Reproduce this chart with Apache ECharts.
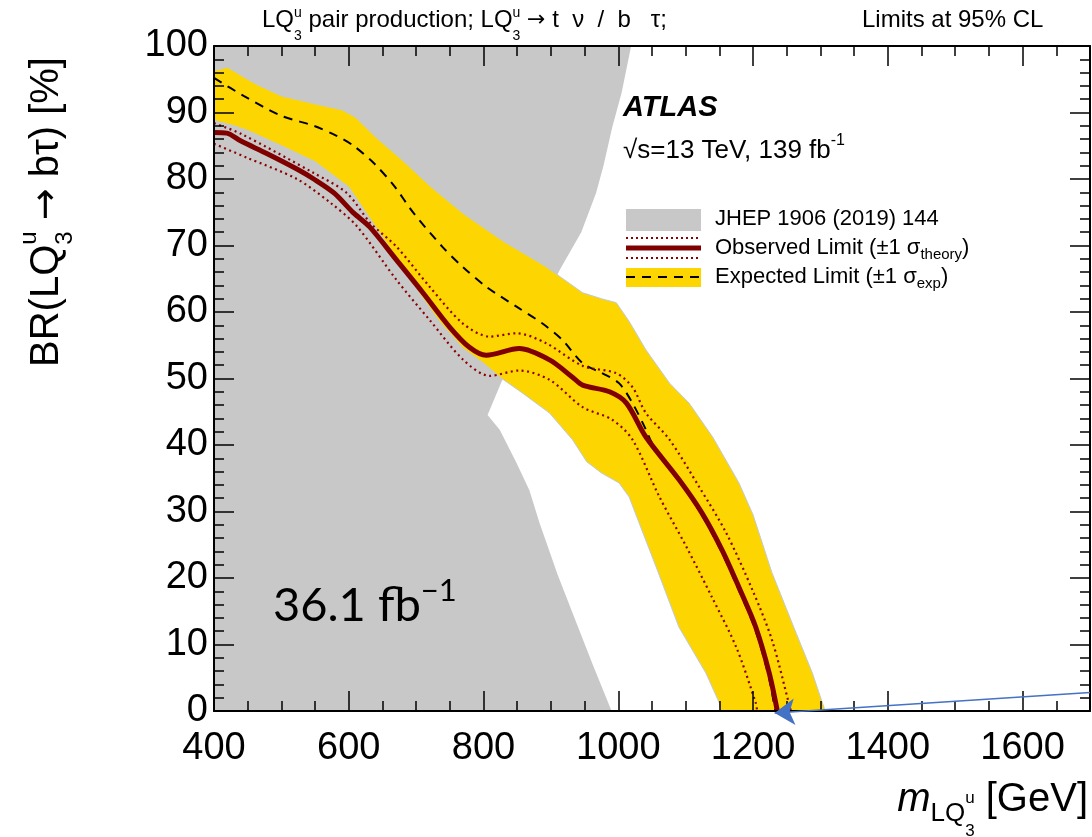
<!DOCTYPE html>
<html>
<head>
<meta charset="utf-8">
<script src="https://cdn.jsdelivr.net/npm/echarts@6/dist/echarts.min.js"></script>
<style>
  html, body { margin: 0; padding: 0; background: #fff; }
  #main { width: 1092px; height: 837px; }
</style>
</head>
<body>
<div id="main"></div>
<script>
// [mass GeV, BR %]
var observed = [[400,87.0],[419,86.9],[440,85.7],[479,83.8],[523,81.5],[548,80.0],[578,77.9],[607,74.9],[631,72.8],[671,67.8],[710,62.9],[750,57.7],[779,54.7],[804,53.5],[853,54.5],[898,52.8],[932,50.2],[947,49.0],[987,48.0],[1012,46.3],[1041,41.2],[1090,34.8],[1124,29.8],[1154,24.2],[1179,18.6],[1204,12.6],[1224,5.7],[1236,0]];
var observedUp = [[400,88.4],[440,86.8],[548,80.9],[597,77.9],[632,73.4],[671,69.8],[720,63.8],[769,58.3],[809,56.3],[849,56.8],[893,55.3],[947,51.9],[997,50.8],[1021,48.7],[1041,44.8],[1076,40.8],[1120,33.7],[1160,26.8],[1199,18.2],[1228,10.7],[1253,1.2],[1256,0]];
var observedDown = [[400,85.3],[449,83.2],[523,80.0],[573,76.4],[612,72.9],[671,64.8],[720,58.8],[770,52.8],[809,50.4],[853,51.2],[898,49.8],[947,45.7],[991,43.8],[1021,40.8],[1061,32.2],[1101,24.7],[1139,17.1],[1175,9.6],[1204,1.2],[1206,0]];
var expected = [[400,95.2],[444,92.5],[500,89.5],[548,88.0],[582,86.5],[607,85.0],[637,82.4],[667,79.0],[696,74.9],[739,69.8],[769,66.8],[804,63.8],[849,60.8],[887,58.3],[917,55.8],[947,52.3],[976,50.8],[1001,49.3],[1021,46.3],[1041,42.3],[1050,40.3],[1088,35.0],[1122,29.8],[1152,24.2],[1177,18.6],[1202,12.6],[1222,5.7],[1233,0]];
var expectedUp = [[400,96.3],[420,96.8],[460,94.4],[500,92.5],[550,91.3],[590,90.4],[610,89.3],[640,86.3],[680,82.8],[720,79.0],[770,74.8],[830,70.6],[890,67.0],[947,62.9],[975,62.0],[997,61.4],[1016,58.6],[1041,54.3],[1076,49.3],[1105,46.3],[1140,41.2],[1179,34.3],[1200,29.5],[1228,20.8],[1264,11.7],[1288,5.7],[1307,0]];
var expectedDown = [[400,88.8],[430,88.0],[450,87.3],[500,85.0],[550,82.6],[600,78.8],[632,74.0],[665,69.0],[700,63.5],[735,58.5],[770,54.5],[800,52.3],[827,50.0],[858,47.8],[898,44.8],[932,40.8],[953,37.5],[975,35.8],[1001,34.3],[1016,32.2],[1030,28.5],[1056,21.7],[1090,12.6],[1130,5.7],[1150,1.2],[1152,0]];
// outline of the excluded region of JHEP 1906 (2019) 144
var jhepRegion = [[400,100],[1019,100],[1016,98.5],[1005,93],[991,87.8],[978,82],[967,77.9],[945,72],[913,66.3],[870,57],[835,51],[827,49.6],[806,44.5],[824,42.3],[849,37.3],[868,33.2],[883,28.3],[910,20.5],[935,14],[962,7],[990,0],[400,0]];
// blue arrow pointing at the observed limit
var arrowFrom = [1700, 2.8];
var arrowTo = [1232, -0.3];

var massMin = 400, massMax = 1700, massStep = 200, massMinor = 50;
var brMin = 0, brMax = 100, brStep = 10;

var FONT = '"Liberation Sans", Arial, sans-serif';
var ARROW_FONT = '"DejaVu Sans", sans-serif';
var ctx = document.createElement('canvas').getContext('2d');
function fontStr(size, style, family) { return (style || '') + ' ' + size + 'px ' + (family || FONT); }
function measure(t, f) { ctx.font = f; return ctx.measureText(t).width; }

function segFont(s, family) { return fontStr(s.size, s.style, s.family || family); }
function segWidth(s, family) {
  var f = segFont(s, family);
  if (s.sup != null) return Math.max(measure(s.sup, f), measure(s.sub, f));
  return measure(s.t, f);
}

// lays out a line of text with sub/superscripts as graphic text elements
function textLine(segs, x0, y0, align, family) {
  var total = 0;
  segs.forEach(function (s) { total += segWidth(s, family); });
  if (align === 'center') x0 -= total / 2;
  if (align === 'right') x0 -= total;
  var els = [], x = x0;
  segs.forEach(function (s) {
    var f = segFont(s, family);
    var items = s.sup != null ? [[s.sup, s.up], [s.sub, s.down]] : [[s.t, s.dy || 0]];
    items.forEach(function (it) {
      els.push({
        type: 'text', x: x, y: y0 + it[1], silent: true, z: 100,
        style: { text: it[0], font: f, fill: '#000', verticalAlign: 'middle', textVerticalAlign: 'middle' }
      });
    });
    x += segWidth(s, family);
  });
  return els;
}

var graphics = [];
// header line
graphics = graphics.concat(textLine([
  {t: 'LQ', size: 24}, {sup: 'u', sub: '3', size: 14, up: -7, down: 16},
  {t: ' pair production; LQ', size: 24}, {sup: 'u', sub: '3', size: 14, up: -7, down: 16},
  {t: ' ', size: 24}, {t: '\u2192', size: 22, family: ARROW_FONT},
  {t: ' t  \u03bd  /  b   \u03c4;', size: 24}
], 262, 20));
graphics = graphics.concat(textLine([{t: 'Limits at 95% CL', size: 24}], 862, 20));

// ATLAS label
graphics = graphics.concat(textLine([{t: 'ATLAS', size: 29, style: 'italic bold'}], 623, 108));
graphics = graphics.concat(textLine([
  {t: '\u221as=13 TeV, 139 fb', size: 26}, {t: '-1', size: 16, dy: -10}
], 623, 151));

// legend
function deco(el) { el.silent = true; el.z = 100; return el; }
graphics.push(deco({ type: 'rect', shape: {x: 626, y: 209, width: 75, height: 22}, style: {fill: '#c8c8c8'} }));
graphics.push(deco({ type: 'line', shape: {x1: 626, y1: 238, x2: 701, y2: 238}, style: {stroke: '#8b0000', lineWidth: 2, lineDash: [2, 3]} }));
graphics.push(deco({ type: 'line', shape: {x1: 626, y1: 248, x2: 701, y2: 248}, style: {stroke: '#800000', lineWidth: 5} }));
graphics.push(deco({ type: 'line', shape: {x1: 626, y1: 258, x2: 701, y2: 258}, style: {stroke: '#8b0000', lineWidth: 2, lineDash: [2, 3]} }));
graphics.push(deco({ type: 'rect', shape: {x: 626, y: 268, width: 75, height: 19}, style: {fill: '#fdd500'} }));
graphics.push(deco({ type: 'line', shape: {x1: 626, y1: 277, x2: 701, y2: 277}, style: {stroke: '#000', lineWidth: 2, lineDash: [9, 7]} }));
graphics = graphics.concat(textLine([{t: 'JHEP 1906 (2019) 144', size: 22}], 715, 219));
graphics = graphics.concat(textLine([
  {t: 'Observed Limit (\u00b11 \u03c3', size: 22}, {t: 'theory', size: 15, dy: 7}, {t: ')', size: 22}
], 715, 248));
graphics = graphics.concat(textLine([
  {t: 'Expected Limit (\u00b11 \u03c3', size: 22}, {t: 'exp', size: 15, dy: 7}, {t: ')', size: 22}
], 715, 277));

// older luminosity note
graphics = graphics.concat(textLine([
  {t: '36.1 fb', size: 47}, {t: '\u22121', size: 31, dy: -15}
], 273, 606, 'left', 'Lato, "Open Sans", sans-serif'));

// axis titles
graphics = graphics.concat(textLine([
  {t: 'm', size: 40, style: 'italic'}, {t: 'LQ', size: 26, dy: 14},
  {sup: 'u', sub: '3', size: 17, up: -2, down: 31}, {t: ' [GeV]', size: 40}
], 1088, 800, 'right'));
graphics.push({
  type: 'group', x: 47, y: 212, rotation: Math.PI / 2, z: 100,
  children: textLine([
    {t: 'BR(LQ', size: 40}, {sup: 'u', sub: '3', size: 24, up: -18, down: 18},
    {t: ' ', size: 40}, {t: '\u2192', size: 38, family: ARROW_FONT},
    {t: ' b\u03c4) [%]', size: 40}
  ], 0, 0, 'center')
});

function polygon(points, style) {
  return function (params, api) {
    return {
      type: 'polygon',
      shape: { points: points.map(function (p) { return api.coord(p); }) },
      style: style
    };
  };
}

var band = expectedUp.concat(expectedDown.slice().reverse());

var tickStyle = { color: '#000', width: 1.5 };
function xAxisDef(pos, interval, len, labels, line) {
  return {
    type: 'value', position: pos, min: massMin, max: massMax, interval: interval, z: 10,
    axisLine: { show: line, onZero: false, lineStyle: { color: '#000', width: 2 } },
    axisTick: { show: true, inside: true, length: len, lineStyle: tickStyle },
    axisLabel: labels ? {
      show: true, fontSize: 38, color: '#000', fontFamily: FONT, margin: 19, showMaxLabel: false,
      formatter: function (v) { return String(v); }
    } : { show: false },
    splitLine: { show: false }
  };
}
function yAxisDef(pos, labels) {
  return {
    type: 'value', position: pos, min: brMin, max: brMax, interval: brStep, z: 10,
    axisLine: { show: true, onZero: false, lineStyle: { color: '#000', width: 2 } },
    axisTick: { show: true, inside: true, length: 20, lineStyle: tickStyle },
    minorTick: { show: true, splitNumber: 5, length: 10, lineStyle: tickStyle },
    axisLabel: labels ? { show: true, fontSize: 38, color: '#000', fontFamily: FONT, margin: 6 } : { show: false },
    splitLine: { show: false }
  };
}

var chart = echarts.init(document.getElementById('main'));
chart.setOption({
  animation: false,
  backgroundColor: '#fff',
  grid: { left: 214, right: 2, top: 46, bottom: 126, containLabel: false },
  xAxis: [
    xAxisDef('bottom', massStep, 20, true, true),
    xAxisDef('bottom', massMinor, 10, false, false),
    xAxisDef('top', massStep, 20, false, true),
    xAxisDef('top', massMinor, 10, false, false)
  ],
  yAxis: [yAxisDef('left', true), yAxisDef('right', false)],
  graphic: graphics,
  series: [
    {
      type: 'custom', name: 'JHEP 1906 (2019) 144', data: [[massMin, brMin]], silent: true, z: 1,
      renderItem: polygon(jhepRegion, { fill: '#c8c8c8' })
    },
    {
      type: 'custom', name: 'Expected band', data: [[massMin, brMin]], silent: true, z: 2,
      renderItem: polygon(band, { fill: '#fdd500', stroke: '#c3cad6', lineWidth: 1 })
    },
    {
      type: 'line', name: 'Expected Limit', data: expected, symbol: 'none', smooth: 0.3, z: 3,
      lineStyle: { color: '#000', width: 2, type: [9, 7] }
    },
    {
      type: 'line', name: 'theory up', data: observedUp, symbol: 'none', smooth: 0.3, z: 4,
      lineStyle: { color: '#8b0000', width: 2.2, type: [2, 3.5] }
    },
    {
      type: 'line', name: 'theory down', data: observedDown, symbol: 'none', smooth: 0.3, z: 4,
      lineStyle: { color: '#8b0000', width: 2.2, type: [2, 3.5] }
    },
    {
      type: 'line', name: 'Observed Limit', data: observed, symbol: 'none', smooth: 0.3, z: 5,
      lineStyle: { color: '#800000', width: 5 }
    },
    {
      type: 'lines', name: 'arrow', coordinateSystem: 'cartesian2d', clip: false, silent: true, z: 20,
      symbol: ['none', 'arrow'], symbolSize: 20,
      lineStyle: { color: '#4472c4', width: 1.5, opacity: 1, curveness: 0 },
      data: [{ coords: [arrowFrom, arrowTo] }]
    }
  ]
});
</script>
</body>
</html>
